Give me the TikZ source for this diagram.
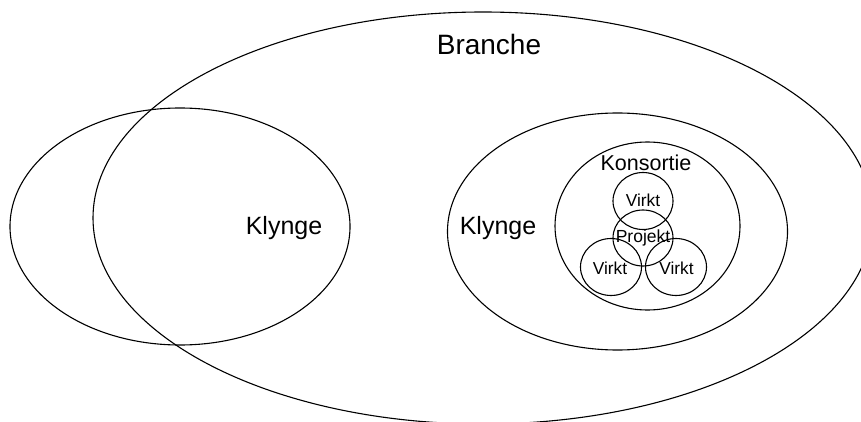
\documentclass[tikz,border=0pt]{standalone}
\usepackage{fontspec}
\setmainfont{Liberation Sans}
\usetikzlibrary{shapes.geometric}
\begin{document}
\begin{tikzpicture}[x=1pt,y=-1pt,
  ring/.style={draw=black, line width=1.1pt, ellipse, inner sep=0pt, minimum width=#1},
  lbl/.style={inner sep=0pt, text=black}]
\useasboundingbox (0,0) rectangle (861,422);
\clip (0,0) rectangle (861,422);
\fill[white] (0,0) rectangle (861,422);
% outer shapes
\node[ring=780pt, minimum height=412pt] (branche) at (483,218) {};
\node[ring=340pt, minimum height=237pt] (klyngeL) at (180,226.5) {};
\node[ring=340pt, minimum height=237pt] (klyngeR) at (617.5,231.5) {};
\node[ring=185pt, minimum height=168pt] (konsortie) at (647.5,226) {};
\node[ring=60pt, minimum height=57pt] (virktT) at (643,201) {};
\node[ring=60pt, minimum height=56pt] (projekt) at (643,238) {};
\node[ring=61pt, minimum height=57pt] (virktL) at (611,267) {};
\node[ring=61pt, minimum height=57pt] (virktR) at (676,267) {};
% labels
\node[lbl, font=\fontsize{28}{30}\selectfont] (tBranche) at (489,44) {Branche};
\node[lbl, font=\fontsize{25}{27}\selectfont] (tKlyngeL) at (284,228) {Klynge};
\node[lbl, font=\fontsize{25}{27}\selectfont] (tKlyngeR) at (498,228) {Klynge};
\node[lbl, font=\fontsize{21.5}{23}\selectfont] (tKonsortie) at (646,163) {Konsortie};
\node[lbl, font=\fontsize{17.3}{19}\selectfont] (tVirktT) at (643,200) {Virkt};
\node[lbl, font=\fontsize{17.5}{19}\selectfont] (tProjekt) at (643,238) {Projekt};
\node[lbl, font=\fontsize{17.3}{19}\selectfont] (tVirktL) at (610,268) {Virkt};
\node[lbl, font=\fontsize{17.3}{19}\selectfont] (tVirktR) at (676.5,268) {Virkt};
\end{tikzpicture}
\end{document}
